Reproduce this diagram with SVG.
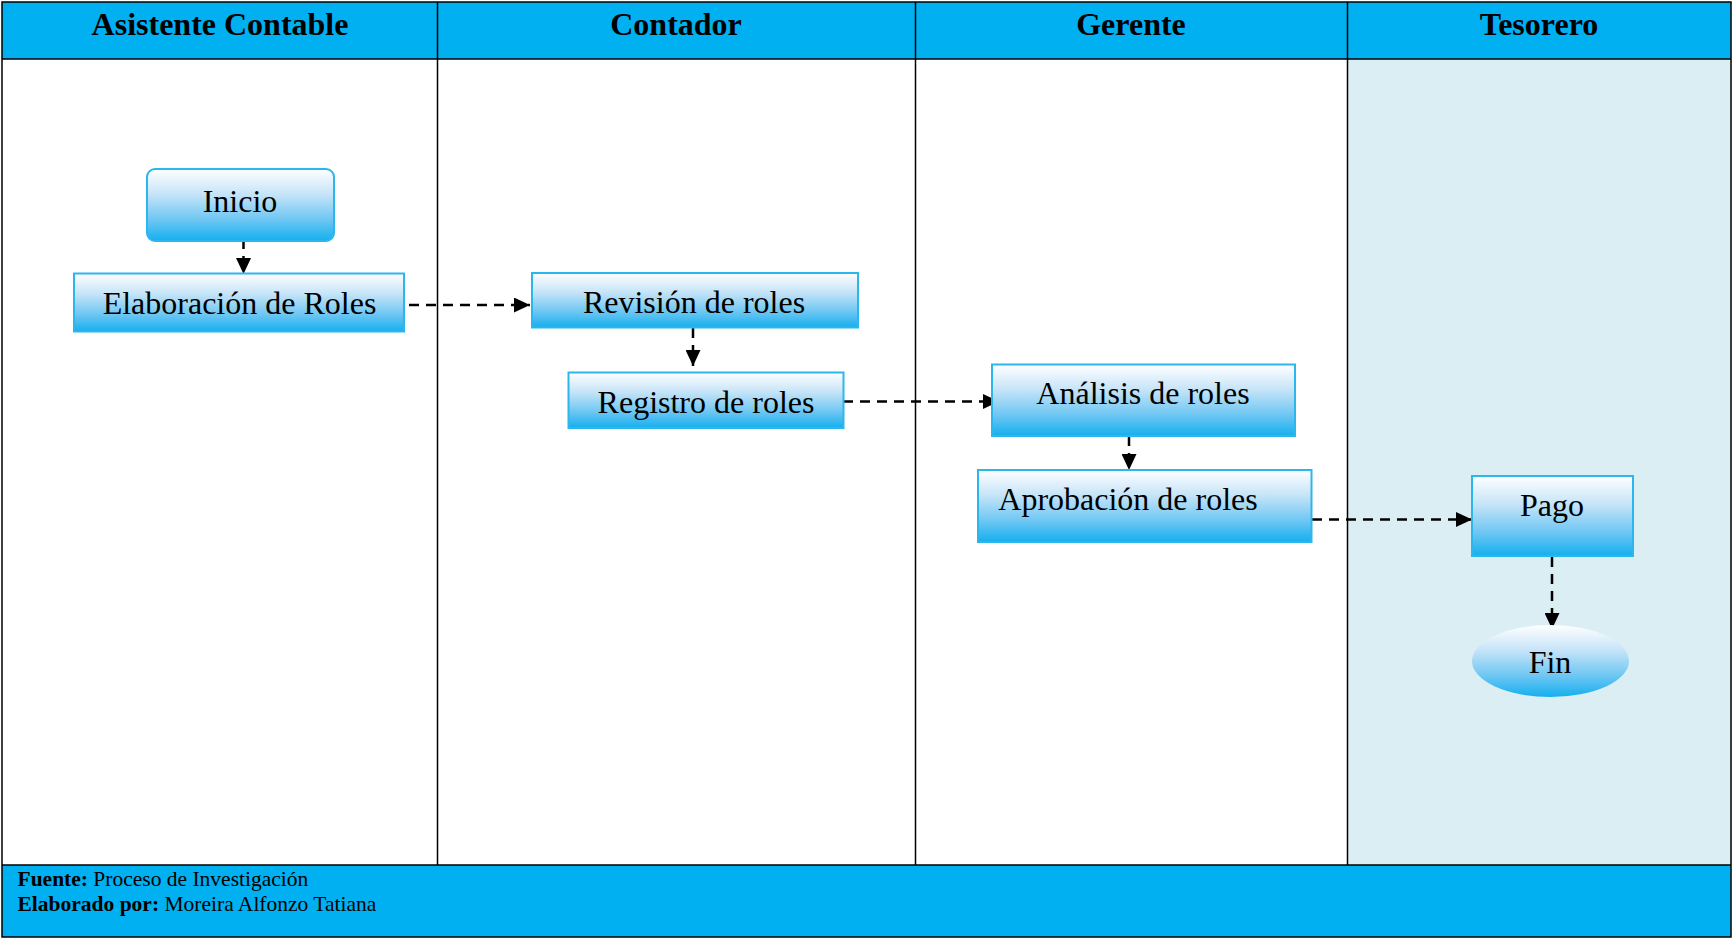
<svg xmlns="http://www.w3.org/2000/svg" width="1733" height="939" viewBox="0 0 1733 939">
<defs>
<linearGradient id="g" x1="0" y1="0" x2="0" y2="1">
<stop offset="0" stop-color="#FFFFFF"/>
<stop offset="0.35" stop-color="#C6E4F8"/>
<stop offset="0.7" stop-color="#6FC7F3"/>
<stop offset="1" stop-color="#14AFEE"/>
</linearGradient>
<marker id="ah" markerWidth="16" markerHeight="15" refX="16" refY="7.5" orient="auto" markerUnits="userSpaceOnUse">
<path d="M0,0 L16,7.5 L0,15 Z" fill="#000"/>
</marker>
<style>
.hdr{fill:#00B0F0}
.ttl{font-family:"Liberation Serif","Times New Roman",serif;font-weight:bold;font-size:32px;fill:#000;text-anchor:middle}
.box{fill:url(#g);stroke:#2CB7EC;stroke-width:2}
.lbl{font-family:"Liberation Serif","Times New Roman",serif;font-size:32px;fill:#000;text-anchor:middle}
.ln{stroke:#000;stroke-width:1.5;fill:none}
.cn{stroke:#000;stroke-width:2.5;stroke-dasharray:10 7;fill:none;marker-end:url(#ah)}
.ft{font-family:"Liberation Serif","Times New Roman",serif;font-size:21.5px;fill:#000}
</style>
</defs>
<g id="background">
<rect x="0" y="0" width="1733" height="939" fill="#FFFFFF"/>
<rect x="1347" y="59" width="385" height="806" fill="#DBEEF4"/>
<rect class="hdr" x="2" y="2" width="1729" height="57"/>
<rect class="hdr" x="2" y="865" width="1729" height="72"/>
</g>
<g id="grid">
<rect class="ln" x="2" y="2" width="1729" height="935"/>
<line class="ln" x1="2" y1="59" x2="1731" y2="59"/>
<line class="ln" x1="2" y1="865" x2="1731" y2="865"/>
<line class="ln" x1="437.5" y1="2" x2="437.5" y2="865"/>
<line class="ln" x1="915.5" y1="2" x2="915.5" y2="865"/>
<line class="ln" x1="1347.5" y1="2" x2="1347.5" y2="865"/>
</g>
<g id="lane-titles">
<text class="ttl" x="220" y="34.5">Asistente Contable</text>
<text class="ttl" x="676" y="34.5">Contador</text>
<text class="ttl" x="1131" y="34.5">Gerente</text>
<text class="ttl" x="1539" y="34.5">Tesorero</text>
</g>
<g id="connectors">
<line class="cn" x1="243.5" y1="239" x2="243.5" y2="274"/>
<line class="cn" x1="409" y1="305" x2="530" y2="305"/>
<line class="cn" x1="693" y1="328" x2="693" y2="366"/>
<line class="cn" x1="843" y1="401.5" x2="999" y2="401.5"/>
<line class="cn" x1="1129" y1="436" x2="1129" y2="470"/>
<line class="cn" x1="1312" y1="519.5" x2="1472" y2="519.5"/>
<line class="cn" x1="1552" y1="557" x2="1552" y2="629"/>
</g>
<g id="n-inicio">
<rect class="box" x="147" y="169" width="187" height="72" rx="8"/>
<text class="lbl" x="240" y="212">Inicio</text>
</g>
<g id="n-elaboracion">
<rect class="box" x="74" y="273.5" width="330" height="58"/>
<text class="lbl" x="239.5" y="313.5">Elaboración de Roles</text>
</g>
<g id="n-revision">
<rect class="box" x="532" y="273" width="326" height="54.5"/>
<text class="lbl" x="694" y="312.5">Revisión de roles</text>
</g>
<g id="n-registro">
<rect class="box" x="568.5" y="372.5" width="275" height="55.5"/>
<text class="lbl" x="706" y="412.5">Registro de roles</text>
</g>
<g id="n-analisis">
<rect class="box" x="992" y="364.5" width="303" height="71.5"/>
<text class="lbl" x="1143" y="404">Análisis de roles</text>
</g>
<g id="n-aprobacion">
<rect class="box" x="978" y="470" width="333.5" height="72"/>
<text class="lbl" x="1128" y="510">Aprobación de roles</text>
</g>
<g id="n-pago">
<rect class="box" x="1472" y="476" width="161" height="80"/>
<text class="lbl" x="1552" y="516">Pago</text>
</g>
<g id="n-fin">
<ellipse cx="1550.5" cy="661" rx="78.5" ry="36" fill="url(#g)"/>
<text class="lbl" x="1550" y="673">Fin</text>
</g>
<g id="footer-text">
<text class="ft" x="17.5" y="886"><tspan font-weight="bold">Fuente:</tspan> Proceso de Investigación</text>
<text class="ft" x="17.5" y="910.5"><tspan font-weight="bold">Elaborado por:</tspan> Moreira Alfonzo Tatiana</text>
</g>
</svg>
